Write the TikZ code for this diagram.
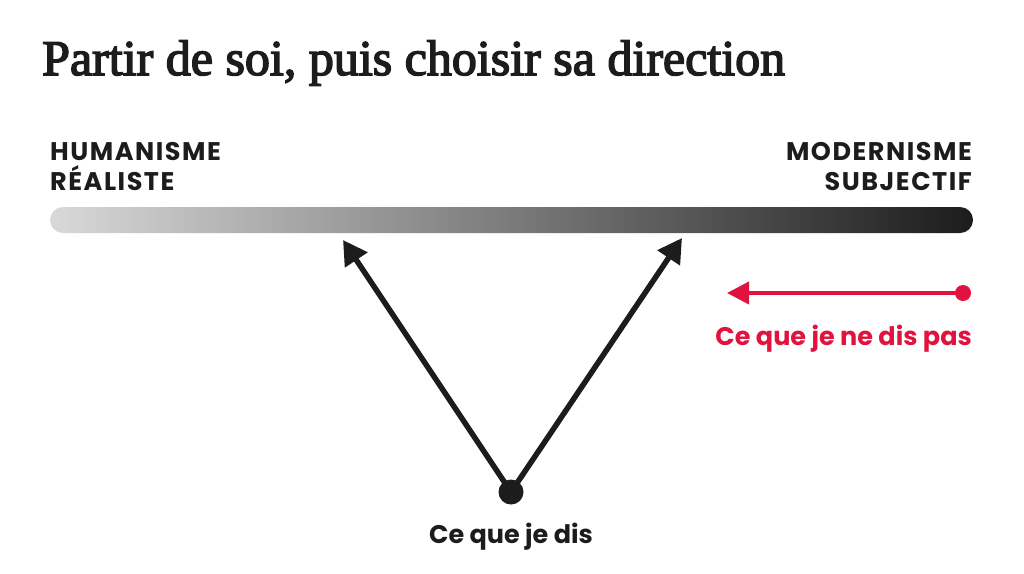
\documentclass[tikz,border=0pt]{standalone}
\usepackage{fontspec}
\usetikzlibrary{arrows.meta}
\setmainfont{Liberation Serif}
\newfontfamily\titlefont{Liberation Serif}[FakeBold=3]
\newfontfamily\labfont{Poppins}[LetterSpace=6]
\newfontfamily\capfont{Poppins}
\definecolor{ink}{HTML}{1C1C1C}
\definecolor{redc}{HTML}{E2123E}
\begin{document}
\begin{tikzpicture}[x=1pt,y=-1pt,
  title/.style={anchor=base west,inner sep=0,font=\titlefont\fontsize{50}{54}\selectfont,text=ink},
  lab/.style={inner sep=0,font=\labfont\bfseries\fontsize{25.5}{30}\selectfont,text=ink},
  captext/.style={inner sep=0,font=\capfont\bfseries\fontsize{25.5}{30}\selectfont},
  arr/.style={line width=5.5pt,draw=ink,-{Triangle[length=24pt,width=26pt]}},
  redarr/.style={line width=4pt,draw=redc,-{Triangle[length=22pt,width=22pt]}}]
\useasboundingbox (0,0) rectangle (1024,573);
\fill[white] (0,0) rectangle (1024,573);
\node[title] (t) at (42,75) {Partir de soi, puis choisir sa direction};
\node[lab,anchor=base west,align=left] (hl) at (50,190) {HUMANISME\\RÉALISTE};
\node[lab,anchor=base east,align=right] (hr) at (972,190) {MODERNISME\\SUBJECTIF};
\shade[left color=black!15, right color=ink, rounded corners=13pt] (50,207) rectangle (973,233);
\node[circle,fill=ink,minimum size=25pt,inner sep=0] (d) at (511,492) {};
\coordinate (lt) at (343,240);
\coordinate (rt) at (682,238);
\draw[arr] (d.center) -- (lt);
\draw[arr] (d.center) -- (rt);
\node[captext,anchor=base,text=ink] (c1) at (511,543) {Ce que je dis};
\node[circle,fill=redc,minimum size=16pt,inner sep=0] (rd) at (963,293) {};
\coordinate (rl) at (727,293);
\draw[redarr] (rd.center) -- (rl);
\node[captext,anchor=base east,text=redc] (c2) at (972,345) {Ce que je ne dis pas};
\end{tikzpicture}
\end{document}
